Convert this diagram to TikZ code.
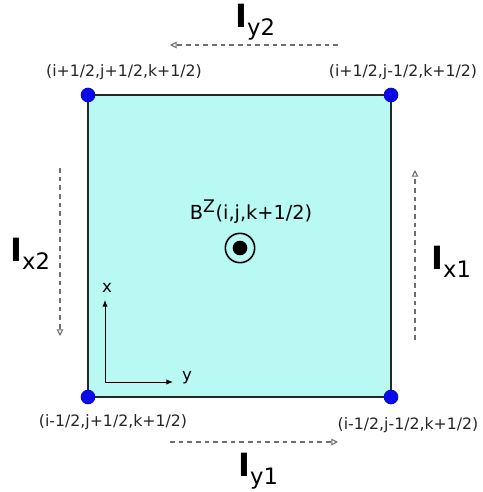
\documentclass[tikz,border=0pt]{standalone}
\usepackage{fontspec}
\setmainfont{DejaVu Sans}
\usetikzlibrary{arrows.meta}
\definecolor{cellfill}{RGB}{185,249,244}
\definecolor{dotblue}{RGB}{10,10,230}
\definecolor{flowgray}{RGB}{110,110,110}
\tikzset{
  corner/.style={circle,fill=dotblue,inner sep=0pt,minimum size=11pt},
  coordlabel/.style={font=\fontsize{11.8}{13}\selectfont,text=black!85,inner sep=0pt},
  current/.style={flowgray,dashed,line width=0.8pt,dash pattern=on 3.5pt off 3pt,-{Triangle[open,length=5pt,width=5pt]}},
  curlabel/.style={font=\fontsize{24}{26}\selectfont,inner sep=0pt},
  axis/.style={line width=0.7pt,-{Latex[length=5pt,width=4pt]}},
}
\newcommand{\curtxt}[1]{\textbf{I}\raisebox{-0.25em}{\fontsize{17}{18}\selectfont #1}}
\begin{document}
\begin{tikzpicture}[x=0.75pt,y=-0.75pt]
\useasboundingbox (0,0) rectangle (482,492);
% cell
\coordinate (tl) at (88,95);
\coordinate (tr) at (391,95);
\coordinate (bl) at (88,397);
\coordinate (br) at (391,397);
\draw[fill=cellfill,line width=1.5pt,draw=black!85] (tl) -- (tr) -- (br) -- (bl) -- cycle;
\node[corner] (ctl) at (tl) {};
\node[corner] (ctr) at (tr) {};
\node[corner] (cbl) at (bl) {};
\node[corner] (cbr) at (br) {};
% corner labels
\node[coordlabel] (ltl) at (124,72) {(i+1/2,j+1/2,k+1/2)};
\node[coordlabel] (ltr) at (403,72) {(i+1/2,j-1/2,k+1/2)};
\node[coordlabel] (lbl) at (113,422) {(i-1/2,j+1/2,k+1/2)};
\node[coordlabel] (lbr) at (408,425) {(i-1/2,j-1/2,k+1/2)};
% B field
\node[font=\fontsize{14.5}{16}\selectfont,inner sep=0pt] (blab) at (251,212) {B\textsuperscript{\fontsize{13}{14}\selectfont Z}(i,j,k+1/2)};
\node[circle,draw,line width=1.2pt,minimum size=22pt,inner sep=0pt] (bout) at (240,248) {};
\node[circle,fill=black,minimum size=11pt,inner sep=0pt] (bin) at (bout) {};
% axes
\coordinate (o) at (105,382);
\coordinate (xe) at (105,300);
\coordinate (ye) at (173,382);
\draw[axis] (o) -- (xe);
\draw[axis] (o) -- (ye);
\node[font=\fontsize{12.5}{14}\selectfont,inner sep=0pt] (xl) at (107,288) {x};
\node[font=\fontsize{12.5}{14}\selectfont,inner sep=0pt] (yl) at (187,378) {y};
% currents
\coordinate (y2s) at (338,45);
\coordinate (y2e) at (170,45);
\draw[current] (y2s) -- (y2e);
\coordinate (y1s) at (170,442);
\coordinate (y1e) at (338,442);
\draw[current] (y1s) -- (y1e);
\coordinate (x2s) at (60,168);
\coordinate (x2e) at (60,336);
\draw[current] (x2s) -- (x2e);
\coordinate (x1s) at (415,340);
\coordinate (x1e) at (415,170);
\draw[current] (x1s) -- (x1e);
\node[curlabel,anchor=base west] (iy2) at (235,28) {\curtxt{y2}};
\node[curlabel,anchor=base west] (iy1) at (238,476) {\curtxt{y1}};
\node[curlabel,anchor=base west] (ix2) at (10,261) {\curtxt{x2}};
\node[curlabel,anchor=base west] (ix1) at (431,269) {\curtxt{x1}};
\end{tikzpicture}
\end{document}
